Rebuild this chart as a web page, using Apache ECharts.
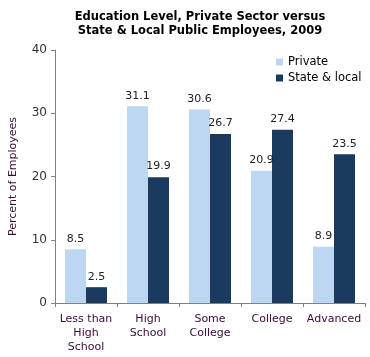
<!DOCTYPE html>
<html><head><meta charset="utf-8">
<script src="https://cdn.jsdelivr.net/npm/echarts@6/dist/echarts.min.js"></script>
<style>html,body{margin:0;padding:0;background:#fff}#c{width:370px;height:357px}</style>
</head><body><div id="c"></div>
<script>
const categories = ['Less than\nHigh\nSchool', 'High\nSchool', 'Some\nCollege', 'College', 'Advanced'];
const privateVals = [8.5, 31.1, 30.6, 20.9, 8.9];
const stateVals = [2.5, 19.9, 26.7, 27.4, 23.5];
const yTicks = [0, 10, 20, 30, 40];

const font = 'DejaVu Sans, Verdana, sans-serif';
const chart = echarts.init(document.getElementById('c'));
chart.setOption({
  animation: false,
  textStyle: { fontFamily: font },
  title: {
    text: 'Education Level, Private Sector versus\nState & Local Public Employees, 2009',
    left: 195, textAlign: 'center', top: 5,
    textStyle: { fontFamily: font, fontSize: 11.5, fontWeight: 'bold', color: '#000', lineHeight: 14 }
  },
  legend: {
    orient: 'vertical', left: 271, top: 51, itemWidth: 7, itemHeight: 7, itemGap: 4,
    icon: 'rect',
    textStyle: { fontFamily: font, fontSize: 11.5, color: '#000' },
    data: ['Private', 'State & local']
  },
  grid: { left: 53, right: 5, top: 50, bottom: 54 },
  xAxis: {
    type: 'category', data: categories,
    axisLine: { lineStyle: { color: '#808080' } },
    axisTick: { show: true, lineStyle: { color: '#808080' }, length: 4 },
    axisLabel: { fontFamily: font, fontSize: 11, color: '#3a0a3a', lineHeight: 14, margin: 9, interval: 0 }
  },
  yAxis: {
    type: 'value', min: yTicks[0], max: yTicks[yTicks.length - 1], interval: 10,
    name: 'Percent of Employees', nameLocation: 'middle', nameGap: 36,
    nameTextStyle: { fontFamily: font, fontSize: 11, color: '#3a0a3a' },
    axisLine: { show: true, lineStyle: { color: '#808080' } },
    axisTick: { show: true, lineStyle: { color: '#808080' }, length: 4 },
    splitLine: { show: false },
    axisLabel: { fontFamily: font, fontSize: 12, color: '#333', margin: 8 }
  },
  series: [
    {
      name: 'Private', type: 'bar', data: privateVals, barWidth: 21, barGap: '0%',
      itemStyle: { color: '#bdd7f3' },
      label: { show: true, position: 'top', fontFamily: font, fontSize: 11, color: '#222', distance: 5 }
    },
    {
      name: 'State & local', type: 'bar', data: stateVals, barWidth: 21,
      itemStyle: { color: '#1b3a60' },
      label: { show: true, position: 'top', fontFamily: font, fontSize: 11, color: '#222', distance: 5 }
    }
  ]
});
</script></body></html>
